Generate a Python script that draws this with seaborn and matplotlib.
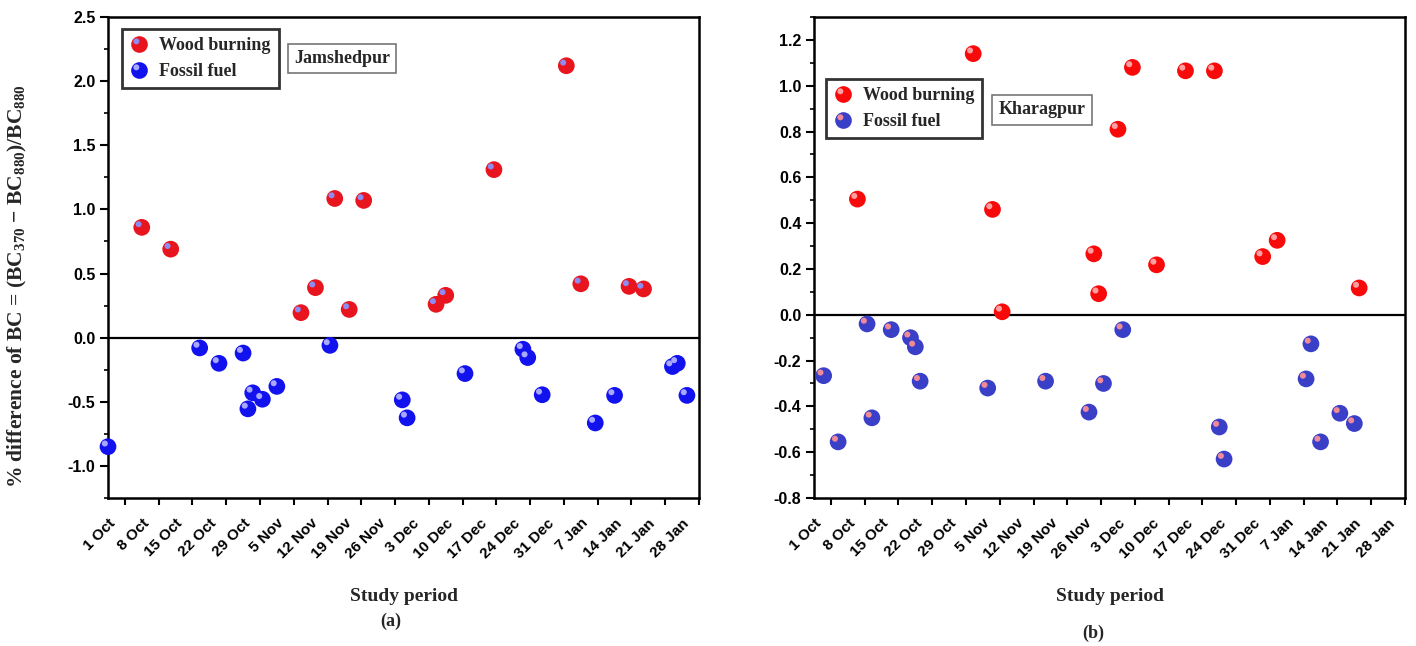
import numpy as np
import pandas as pd
import matplotlib
matplotlib.use("Agg")
import matplotlib.pyplot as plt
from matplotlib.path import Path
from matplotlib.markers import MarkerStyle
from matplotlib.lines import Line2D
from matplotlib.legend_handler import HandlerTuple
import seaborn as sns

# ---------------- data ----------------
jam_wood_dates = ["2019-10-08", "2019-10-14", "2019-11-10", "2019-11-13", "2019-11-17",
                  "2019-11-20", "2019-11-23", "2019-12-08", "2019-12-10", "2019-12-20",
                  "2020-01-04", "2020-01-07", "2020-01-17", "2020-01-20"]
jam_wood_vals = [0.86, 0.69, 0.195, 0.39, 1.085, 0.22, 1.07, 0.26, 0.33, 1.31,
                 2.12, 0.42, 0.40, 0.38]

jam_fossil_dates = ["2019-10-01", "2019-10-20", "2019-10-24", "2019-10-29", "2019-10-30",
                    "2019-10-31", "2019-11-02", "2019-11-05", "2019-11-16", "2019-12-01",
                    "2019-12-02", "2019-12-14", "2019-12-26", "2019-12-27", "2019-12-30",
                    "2020-01-10", "2020-01-14", "2020-01-26", "2020-01-27", "2020-01-29"]
jam_fossil_vals = [-0.85, -0.08, -0.20, -0.12, -0.555, -0.43, -0.48, -0.38, -0.06, -0.485,
                   -0.625, -0.28, -0.09, -0.155, -0.445, -0.665, -0.45, -0.225, -0.20, -0.45]

khg_wood_dates = ["2019-10-10", "2019-11-03", "2019-11-07", "2019-11-09", "2019-11-28",
                  "2019-11-29", "2019-12-03", "2019-12-06", "2019-12-11", "2019-12-17",
                  "2019-12-23", "2020-01-02", "2020-01-05", "2020-01-22"]
khg_wood_vals = [0.505, 1.14, 0.46, 0.013, 0.266, 0.092, 0.81, 1.08, 0.218, 1.065,
                 1.065, 0.254, 0.325, 0.117]

khg_fossil_dates = ["2019-10-03", "2019-10-06", "2019-10-12", "2019-10-13", "2019-10-17",
                    "2019-10-21", "2019-10-22", "2019-10-23", "2019-11-06", "2019-11-18",
                    "2019-11-27", "2019-11-30", "2019-12-04", "2019-12-24", "2019-12-25",
                    "2020-01-11", "2020-01-12", "2020-01-14", "2020-01-18", "2020-01-21"]
khg_fossil_vals = [-0.266, -0.555, -0.04, -0.45, -0.065, -0.10, -0.14, -0.29, -0.32, -0.29,
                   -0.425, -0.30, -0.065, -0.49, -0.63, -0.28, -0.127, -0.555, -0.43, -0.475]

tick_dates = ["2019-10-01", "2019-10-08", "2019-10-15", "2019-10-22", "2019-10-29",
              "2019-11-05", "2019-11-12", "2019-11-19", "2019-11-26", "2019-12-03",
              "2019-12-10", "2019-12-17", "2019-12-24", "2019-12-31", "2020-01-07",
              "2020-01-14", "2020-01-21", "2020-01-28"]
tick_labels = ["1 Oct", "8 Oct", "15 Oct", "22 Oct", "29 Oct", "5 Nov", "12 Nov", "19 Nov",
               "26 Nov", "3 Dec", "10 Dec", "17 Dec", "24 Dec", "31 Dec", "7 Jan", "14 Jan",
               "21 Jan", "28 Jan"]

# ---------------- style ----------------
sns.set_theme(style="white")
plt.rcParams["font.family"] = ["Liberation Sans", "DejaVu Sans"]
plt.rcParams["mathtext.fontset"] = "custom"
plt.rcParams["mathtext.rm"] = "Liberation Serif:bold"
plt.rcParams["mathtext.it"] = "Liberation Serif:bold"
plt.rcParams["mathtext.bf"] = "Liberation Serif:bold"

SERIF = ["Liberation Serif", "DejaVu Serif"]

# highlight marker: small circle shifted up-left (path units: main radius = 1)
def highlight_marker(dx=-0.38, dy=0.38, r=0.36):
    circ = Path.circle((dx, dy), r)
    anchor = Path([(1.0, 1.0)], [Path.MOVETO])
    return MarkerStyle(Path.make_compound_path(anchor, circ))

HL = highlight_marker()
MS = 145  # scatter size

fig = plt.figure(figsize=(14.16, 6.46), dpi=100)
ax1 = fig.add_axes([108 / 1416, 1 - 498 / 646, 591 / 1416, 481 / 646])
ax2 = fig.add_axes([814 / 1416, 1 - 498 / 646, 591 / 1416, 481 / 646])

panels = [
    dict(ax=ax1, wd=jam_wood_dates, wv=jam_wood_vals, fd=jam_fossil_dates, fv=jam_fossil_vals,
         wc="#e8141e", wh="#8c8cf2", fc="#1212ee", fh="#a8a8ff",
         ylim=(-1.25, 2.5), yticks=np.arange(-1.0, 2.51, 0.5), yminor=0.25,
         name="Jamshedpur", leg=(0.0237, 0.975), box=(0.396, 0.914)),
    dict(ax=ax2, wd=khg_wood_dates, wv=khg_wood_vals, fd=khg_fossil_dates, fv=khg_fossil_vals,
         wc="#f80a0a", wh="#ffa0a0", fc="#3a3fc8", fh="#f08a96",
         ylim=(-0.8, 1.3), yticks=np.arange(-0.8, 1.21, 0.2), yminor=0.1,
         name="Kharagpur", leg=(0.020, 0.871), box=(0.386, 0.807)),
]

x0 = pd.Timestamp("2019-10-01")
x1 = pd.Timestamp("2020-01-31") + pd.Timedelta(hours=12)

for p in panels:
    ax = p["ax"]
    wdf = pd.DataFrame({"date": pd.to_datetime(p["wd"]), "val": p["wv"]})
    fdf = pd.DataFrame({"date": pd.to_datetime(p["fd"]), "val": p["fv"]})
    ax.axhline(0, color="black", lw=1.6, zorder=1)
    for df, c, h in [(fdf, p["fc"], p["fh"]), (wdf, p["wc"], p["wh"])]:
        sns.scatterplot(data=df, x="date", y="val", ax=ax, color=c, s=MS, marker="o",
                        edgecolor="none", linewidth=0, zorder=3, clip_on=False)
        sns.scatterplot(data=df, x="date", y="val", ax=ax, color=h, s=MS, marker=HL,
                        edgecolor="none", linewidth=0, zorder=4, clip_on=False)
    ax.set_xlim(x0, x1)
    ax.set_ylim(*p["ylim"])
    ticks = pd.to_datetime(tick_dates)
    ax.set_xticks(ticks)
    ax.set_xticklabels(tick_labels, rotation=45, ha="right", rotation_mode="anchor",
                       fontsize=11, fontweight="bold")
    minor = ticks + pd.Timedelta(hours=84)
    ax.set_xticks(minor, minor=True)
    yt = np.round(p["yticks"], 2)
    ax.set_yticks(yt)
    ax.set_yticklabels([f"{abs(v):.1f}" if abs(v) < 1e-9 else f"{v:.1f}" for v in yt],
                       fontsize=11.5, fontweight="bold")
    ax.set_yticks(np.arange(p["ylim"][0], p["ylim"][1] + 1e-9, p["yminor"]), minor=True)
    ax.tick_params(axis="x", which="major", direction="out", length=9, width=1.8,
                   colors="black", pad=4)
    ax.tick_params(axis="x", which="minor", direction="out", length=5, width=1.5,
                   colors="black", bottom=True)
    ax.tick_params(axis="y", which="major", direction="out", length=6, width=1.5,
                   colors="black", left=True, pad=3)
    ax.tick_params(axis="y", which="minor", direction="out", length=3, width=1.2,
                   colors="black", left=True)
    for sp in ax.spines.values():
        sp.set_visible(True)
        sp.set_color("black")
        sp.set_linewidth(1.8)
    ax.set_xlabel("Study period", fontsize=14, fontweight="bold", family=SERIF, labelpad=19)
    ax.set_ylabel("")
    ax.grid(False)

    # legend with highlighted sphere markers
    hw = (Line2D([], [], ls="none", marker="o", ms=12, color=p["wc"], mec="none"),
          Line2D([], [], ls="none", marker=HL, ms=12, color=p["wh"], mec="none"))
    hf = (Line2D([], [], ls="none", marker="o", ms=12, color=p["fc"], mec="none"),
          Line2D([], [], ls="none", marker=HL, ms=12, color=p["fh"], mec="none"))
    leg = ax.legend([hw, hf], ["Wood burning", "Fossil fuel"],
                    handler_map={tuple: HandlerTuple(ndivide=1)},
                    loc="upper left", bbox_to_anchor=p["leg"], frameon=True, fancybox=False,
                    prop=dict(family=SERIF, weight="bold", size=13),
                    handlelength=1.0, handletextpad=0.6, borderpad=0.45, labelspacing=0.5,
                    borderaxespad=0)
    leg.get_frame().set_edgecolor("black")
    leg.get_frame().set_linewidth(2.0)
    leg.set_zorder(10)

    ax.text(p["box"][0], p["box"][1], p["name"], transform=ax.transAxes, fontsize=13,
            fontweight="bold", family=SERIF, va="center", ha="center",
            bbox=dict(boxstyle="square,pad=0.35", fc="white", ec="#777777", lw=1.2))

# y label (left panel only)
fig.text(17 / 1416, 1 - 286 / 646,
         r"% difference of BC = (BC$_{370}$ $-$ BC$_{880}$)/BC$_{880}$",
         rotation=90, ha="center", va="center", fontsize=15.5, fontweight="bold",
         family=SERIF)

fig.text(391 / 1416, 1 - 621 / 646, "(a)", ha="center", va="center", fontsize=13,
         fontweight="bold", family=SERIF)
fig.text(1093 / 1416, 1 - 633 / 646, "(b)", ha="center", va="center", fontsize=13,
         fontweight="bold", family=SERIF)

fig.savefig("out.png", dpi=100)
